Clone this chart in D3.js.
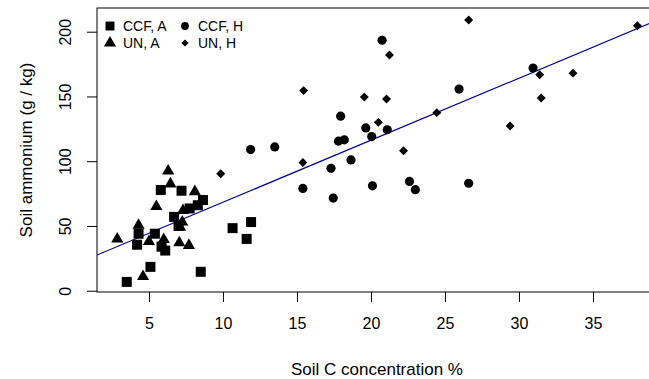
<!DOCTYPE html>
<html>
<head>
<meta charset="utf-8">
<script src="https://cdn.jsdelivr.net/npm/d3@7"></script>
<style>
  body { margin: 0; background: #fff; }
  svg { display: block; font-family: "Liberation Sans", Arial, sans-serif; }
</style>
</head>
<body>
<div id="chart"></div>
<script>
// CCF, A (squares)
const ccfA_x = [3.5, 5.1, 4.2, 4.3, 5.4, 5.8, 7.2, 6.7, 7.75, 8.3, 8.65, 7.0, 5.85, 6.1, 8.5, 10.65, 11.6, 11.9];
const ccfA_y = [6.8, 18.4, 35.5, 44, 44, 77.8, 77.2, 57, 63.5, 66, 70, 50, 34, 31, 14.6, 48.3, 40, 53];
// UN, A (triangles)
const unA_x = [2.86, 4.3, 4.6, 5.0, 5.5, 6.0, 6.3, 6.45, 7.05, 7.7, 8.1, 7.3, 7.25, 7.1];
const unA_y = [40, 50.5, 11, 38, 65, 39.5, 92.5, 82.5, 37, 35, 76.5, 62, 53, 49];
// CCF, H (circles)
const ccfH_x = [11.87, 13.5, 15.4, 17.3, 17.45, 17.8, 18.2, 17.95, 18.65, 19.65, 20.05, 20.1, 21.1, 20.75, 22.6, 23.0, 25.95, 26.6, 30.95];
const ccfH_y = [109, 111, 79, 94.5, 71.5, 115.5, 116.5, 134.8, 101, 125.7, 119, 81, 124.3, 193.4, 84.4, 78, 155.7, 83, 172];
// UN, H (diamonds)
const unH_x = [9.85, 15.45, 15.4, 19.55, 21.05, 21.25, 20.5, 22.2, 24.45, 26.6, 29.4, 31.4, 31.5, 33.65, 38.0];
const unH_y = [90.3, 154.5, 99, 149.5, 148, 182, 130, 108, 137.5, 209, 127.2, 166.7, 148.8, 168, 204.6];

const xTicks = [5, 10, 15, 20, 25, 30, 35];
const yTicks = [0, 50, 100, 150, 200];
// fitted line: intercept, slope
const fitCoef = [20.4, 4.79];

const width = 649, height = 379;
const plot = {left: 97, right: 659.6, top: 8, bottom: 292};

const svg = d3.select("#chart").append("svg")
    .attr("width", width).attr("height", height);

const x = d3.scaleLinear().domain([1.49, 39.5]).range([plot.left, plot.right]);
const y = d3.scaleLinear().domain([-1, 218.3]).range([plot.bottom, plot.top]);

// frame
svg.append("rect")
    .attr("x", plot.left).attr("y", plot.top)
    .attr("width", plot.right - plot.left).attr("height", plot.bottom - plot.top)
    .attr("fill", "none").attr("stroke", "#000").attr("stroke-width", 1);

// axes
const xAxis = svg.append("g")
    .attr("transform", "translate(0," + plot.bottom + ")")
    .call(d3.axisBottom(x).tickValues(xTicks).tickSize(10).tickPadding(16).tickSizeOuter(0));
xAxis.select(".domain").remove();
xAxis.selectAll("text").style("font-size", "16px").attr("fill", "#000");

const yAxis = svg.append("g")
    .attr("transform", "translate(" + plot.left + ",0)")
    .call(d3.axisLeft(y).tickValues(yTicks).tickSize(10).tickSizeOuter(0));
yAxis.select(".domain").remove();
// R style: labels rotated, parallel to the axis
yAxis.selectAll("text")
    .style("font-size", "16px").attr("fill", "#000")
    .attr("x", 0).attr("y", 0).attr("dy", 0)
    .attr("text-anchor", "middle")
    .attr("transform", "translate(-26,0) rotate(-90)");

// titles
svg.append("text")
    .attr("x", 377).attr("y", 375)
    .attr("text-anchor", "middle")
    .style("font-size", "17px")
    .text("Soil C concentration %");

svg.append("text")
    .attr("transform", "translate(32," + ((plot.top + plot.bottom) / 2) + ") rotate(-90)")
    .attr("text-anchor", "middle")
    .style("font-size", "17px")
    .text("Soil ammonium (g / kg)");

// regression line
svg.append("clipPath").attr("id", "clip")
    .append("rect").attr("x", plot.left).attr("y", plot.top)
    .attr("width", plot.right - plot.left).attr("height", plot.bottom - plot.top);

svg.append("line")
    .attr("clip-path", "url(#clip)")
    .attr("x1", x(1.49)).attr("y1", y(fitCoef[0] + fitCoef[1] * 1.49))
    .attr("x2", x(39.5)).attr("y2", y(fitCoef[0] + fitCoef[1] * 39.5))
    .attr("stroke", "#00008B").attr("stroke-width", 1.2);

// symbols
const shapes = {
    square: d3.symbol().type(d3.symbolSquare).size(100),
    circle: d3.symbol().type(d3.symbolCircle).size(66),
    triangle: d3.symbol().type(d3.symbolTriangle).size(64),
    diamond: d3.symbol().type(d3.symbolSquare).size(40)
};

function drawGroup(xs, ys, shape) {
    const pts = xs.map(function(v, i) { return {x: v, y: ys[i]}; });
    svg.append("g").selectAll("path")
        .data(pts)
        .enter()
        .append("path")
        .attr("d", shapes[shape]())
        .attr("transform", function(d) {
            return "translate(" + x(d.x) + "," + y(d.y) + ")" + (shape === "diamond" ? " rotate(45)" : "");
        })
        .attr("fill", "#000");
}

drawGroup(ccfA_x, ccfA_y, "square");
drawGroup(unA_x, unA_y, "triangle");
drawGroup(ccfH_x, ccfH_y, "circle");
drawGroup(unH_x, unH_y, "diamond");

// legend
const legendItems = [
    {label: "CCF, A", shape: "square", lx: 110, ly: 26},
    {label: "CCF, H", shape: "circle", lx: 185, ly: 26},
    {label: "UN, A", shape: "triangle", lx: 110, ly: 43},
    {label: "UN, H", shape: "diamond", lx: 185, ly: 43}
];
const legendSize = {square: 80, circle: 48, triangle: 64, diamond: 26};

const legend = svg.append("g");
legend.selectAll("path")
    .data(legendItems)
    .enter()
    .append("path")
    .attr("d", function(d) { return d3.symbol().type(d.shape === "circle" ? d3.symbolCircle : d.shape === "triangle" ? d3.symbolTriangle : d3.symbolSquare).size(legendSize[d.shape])(); })
    .attr("transform", function(d) { return "translate(" + d.lx + "," + d.ly + ")" + (d.shape === "diamond" ? " rotate(45)" : ""); })
    .attr("fill", "#000");

legend.selectAll("text")
    .data(legendItems)
    .enter()
    .append("text")
    .attr("x", function(d) { return d.lx + 13; })
    .attr("y", function(d) { return d.ly + 5; })
    .style("font-size", "14px")
    .text(function(d) { return d.label; });
</script>
</body>
</html>
